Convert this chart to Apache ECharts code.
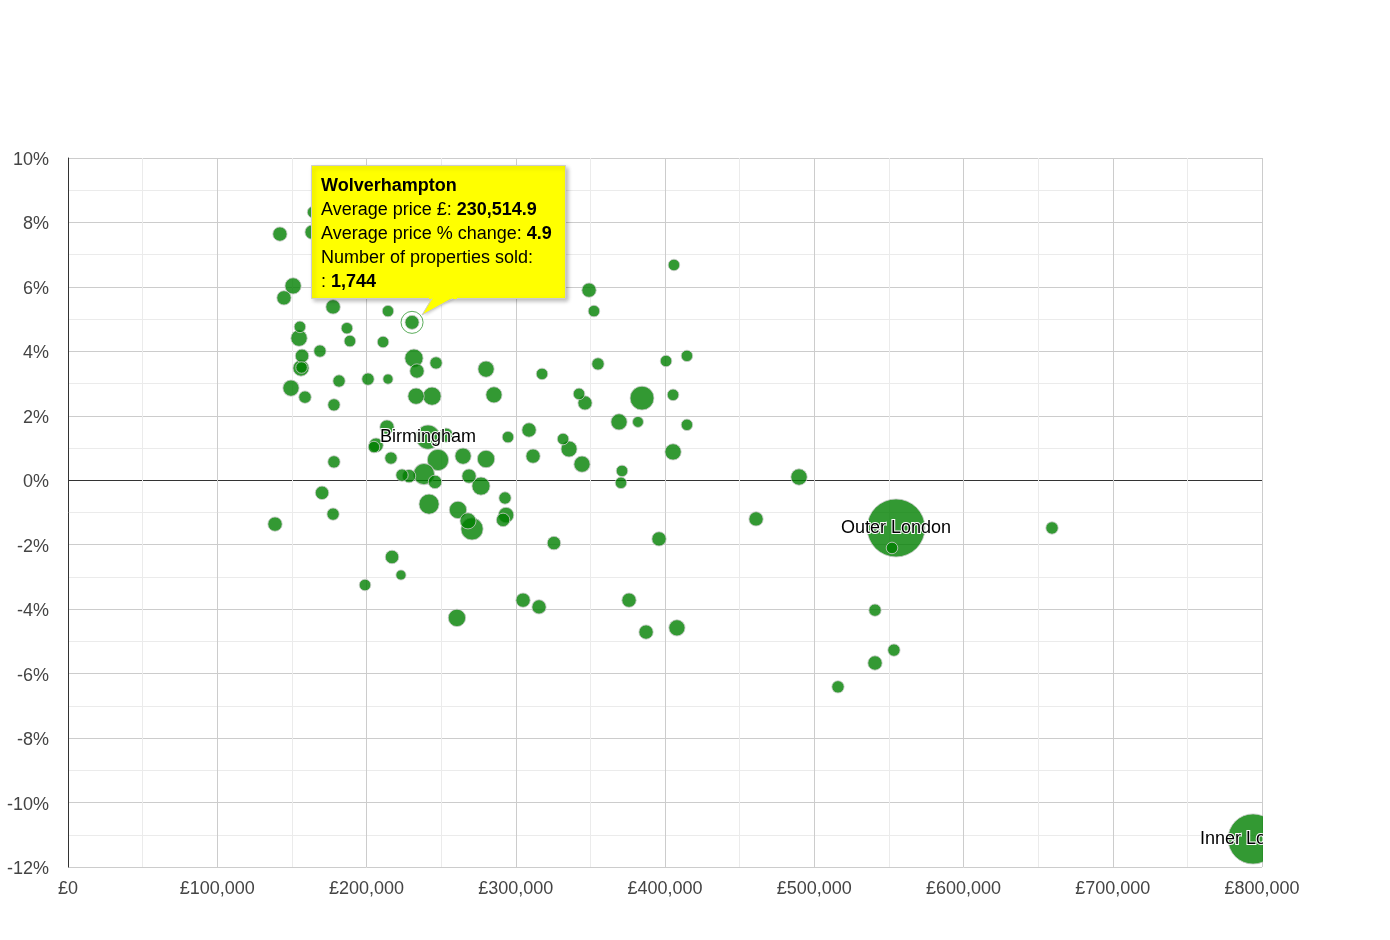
<!DOCTYPE html>
<html>
<head>
<meta charset="utf-8">
<script src="https://cdn.jsdelivr.net/npm/echarts@6/dist/echarts.min.js"></script>
<style>
  html, body { margin: 0; padding: 0; background: #fff; }
  #chart { width: 1390px; height: 940px; }
</style>
</head>
<body>
<div id="chart"></div>
<script>
// bubble data: average price, % change, number of properties sold
var names = [];
var prices = [
  142000, 163500, 164200, 150800, 144700, 177600, 155400, 154800, 186900, 188900,
  214400, 211100, 230514.9, 156800, 156100, 156500, 168800, 149400, 158800, 181600,
  178200, 201000, 214400, 231800, 233800, 246600, 233200, 243900, 280100, 285400,
  317600, 342400, 346400, 355100, 349100, 352400, 307500, 200300, 406000, 400700,
  414700, 405400, 414700, 384600, 381900, 369200, 405400, 371200, 370500, 331700,
  335700, 344400, 308900, 311600, 294800, 280100, 264700, 268700, 276700, 247900,
  238500, 245900, 223800, 228500, 241200, 213700, 253300, 206400, 205000, 216400,
  178200, 170200, 177600, 138700, 241900, 261300, 268000, 270700, 292800, 293500,
  291500, 325600, 217100, 223100, 199000, 260600, 304900, 315600, 375900, 387300,
  408000, 396000, 461000, 489800, 554800, 552100, 540700, 553400, 540700, 515900,
  659300, 794000
];
var changes = [
  7.64, 7.70, 8.32, 6.03, 5.66, 5.38, 4.76, 4.41, 4.72, 4.32,
  5.25, 4.29, 4.9, 3.86, 3.48, 3.50, 4.01, 2.86, 2.58, 3.08,
  2.34, 3.14, 3.14, 3.79, 3.39, 3.64, 2.61, 2.61, 3.45, 2.65,
  3.30, 2.68, 2.40, 3.61, 5.90, 5.25, 5.87, 5.84, 6.68, 3.70,
  3.86, 2.65, 1.72, 2.55, 1.81, 1.81, 0.88, 0.29, -0.08, 1.28,
  0.97, 0.50, 1.56, 0.75, 1.34, 0.66, 0.75, 0.13, -0.18, 0.63,
  0.19, -0.05, 0.16, 0.13, 1.34, 1.65, 1.40, 1.09, 1.03, 0.69,
  0.57, -0.39, -1.05, -1.36, -0.74, -0.92, -1.26, -1.51, -0.55, -1.08,
  -1.23, -1.95, -2.38, -2.94, -3.25, -4.27, -3.72, -3.93, -3.72, -4.71,
  -4.58, -1.82, -1.20, 0.10, -1.48, -2.10, -4.03, -5.27, -5.67, -6.41,
  -1.48, -11.13
];
var sold = [
  1840, 1800, 820, 2570, 1850, 1900, 830, 2600, 800, 850,
  790, 820, 1744, 1550, 2500, 830, 1100, 2550, 1150, 1100,
  1080, 1120, 300, 3300, 1850, 1100, 2580, 3280, 2550, 2520,
  830, 840, 1800, 1100, 1860, 830, 800, 850, 820, 830,
  800, 840, 800, 5400, 600, 2550, 2580, 830, 820, 830,
  2500, 2560, 1850, 1820, 830, 3000, 2550, 1840, 3250, 4450,
  4400, 1550, 1100, 1500, 5500, 1850, 1800, 1880, 820, 1100,
  1120, 1550, 1100, 1850, 4000, 3000, 2500, 4750, 1100, 2300,
  1550, 1550, 1550, 300, 830, 3000, 1840, 1830, 1850, 1840,
  2550, 1850, 1830, 2600, 18000, 830, 1100, 1100, 1850, 1100,
  1120, 15100
];
for (var i = 0; i < prices.length; i++) names.push('');
names[12] = 'Wolverhampton';
names[64] = 'Birmingham';
names[94] = 'Outer London';
names[101] = 'Inner London';

var labelled = ['Birmingham', 'Outer London', 'Inner London'];
var selected = 'Wolverhampton';

var xTicks = [0, 100000, 200000, 300000, 400000, 500000, 600000, 700000, 800000];
var yTicks = [-12, -10, -8, -6, -4, -2, 0, 2, 4, 6, 8, 10];

var FONT = 'Arial, "Liberation Sans", sans-serif';
var minSold = 250, maxSold = 18000;
function bubbleSize(v) {
  var r = 5 + (v - minSold) / (maxSold - minSold) * 24;
  return r * 2;
}

var points = [];
for (var i = 0; i < prices.length; i++) {
  points.push({
    name: names[i],
    value: [prices[i], changes[i], sold[i]],
    label: { show: labelled.indexOf(names[i]) >= 0 }
  });
}
// larger bubbles first so small ones sit on top
points.sort(function (a, b) { return b.value[2] - a.value[2]; });

var sel = points.filter(function (p) { return p.name === selected; })[0];

// y split line colours: dark baseline at 0
var ySplitColors = yTicks.map(function (t) { return t === 0 ? '#333333' : '#cccccc'; });

var chart = echarts.init(document.getElementById('chart'));
chart.setOption({
  animation: false,
  grid: { left: 68, right: 128, top: 158, bottom: 73 },
  xAxis: {
    type: 'value',
    min: xTicks[0],
    max: xTicks[xTicks.length - 1],
    interval: 100000,
    axisLine: { show: false },
    axisTick: { show: false },
    axisLabel: {
      color: '#444', fontSize: 18, fontFamily: FONT, margin: 13,
      formatter: function (v) { return '£' + v.toLocaleString('en-GB'); }
    },
    splitLine: { lineStyle: { color: '#cccccc', width: 1 } },
    minorTick: { show: false, splitNumber: 2 },
    minorSplitLine: { show: true, lineStyle: { color: '#ebebeb', width: 1 } }
  },
  yAxis: {
    type: 'value',
    min: yTicks[0],
    max: yTicks[yTicks.length - 1],
    interval: 2,
    axisLine: { show: true, lineStyle: { color: '#333333', width: 1 } },
    axisTick: { show: false },
    axisLabel: {
      color: '#444', fontSize: 18, fontFamily: FONT, margin: 19,
      formatter: '{p|{value}%}',
      rich: { p: { color: '#444', fontSize: 18, fontFamily: FONT, padding: [4, 0, 0, 0] } }
    },
    splitLine: { lineStyle: { color: ySplitColors, width: 1 } },
    minorTick: { show: false, splitNumber: 2 },
    minorSplitLine: { show: true, lineStyle: { color: '#ebebeb', width: 1 } }
  },
  series: [
    {
      type: 'scatter',
      silent: true,
      data: points,
      symbolSize: function (val) { return bubbleSize(val[2]); },
      itemStyle: { color: 'green', opacity: 0.8, borderColor: '#cccccc', borderWidth: 1 },
      label: {
        position: 'inside',
        formatter: '{b}',
        color: '#000',
        opacity: 1,
        fontSize: 18,
        fontFamily: FONT,
        textBorderColor: '#fff',
        textBorderWidth: 2
      }
    },
    {
      // hover ring around the selected bubble
      type: 'scatter',
      silent: true,
      data: [sel],
      symbolSize: function (val) { return bubbleSize(val[2]) + 8; },
      itemStyle: { color: 'rgba(0,0,0,0)', borderColor: '#339933', borderWidth: 1 },
      label: { show: false },
      z: 3
    }
  ]
});

// static tooltip box for the selected bubble
var pt = chart.convertToPixel({ seriesIndex: 0 }, [sel.value[0], sel.value[1]]);
var bx = Math.round(pt[0]) - 101, by = Math.round(pt[1]) - 157;
var bw = 254, bh = 133;
var tipText = '{b|' + sel.name + '}\n' +
  'Average price £: {b|' + sel.value[0].toLocaleString('en-GB', { maximumFractionDigits: 1 }) + '}\n' +
  'Average price % change: {b|' + sel.value[1] + '}\n' +
  'Number of properties sold:\n' +
  ': {b|' + sel.value[2].toLocaleString('en-GB') + '}';

chart.setOption({
  graphic: [
    {
      // clip bubbles past the right edge of the plot
      type: 'rect', z: 100, silent: true,
      shape: { x: 1263, y: 760, width: 127, height: 106 },
      style: { fill: '#fff' }
    },
    {
      type: 'group', x: bx, y: by, z: 110, silent: true,
      children: [
        {
          type: 'rect', z: 110,
          shape: { x: 0.5, y: 0.5, width: bw, height: bh },
          style: {
            fill: '#ffff00', stroke: '#cccccc', lineWidth: 1,
            shadowBlur: 4, shadowColor: 'rgba(0,0,0,0.25)', shadowOffsetX: 2, shadowOffsetY: 2
          }
        },
        {
          type: 'polygon', z: 111,
          shape: { points: [[121, bh - 0.5], [142, bh - 0.5], [111, bh + 17]] },
          style: { fill: '#ffff00', shadowBlur: 3, shadowColor: 'rgba(0,0,0,0.2)', shadowOffsetX: 2, shadowOffsetY: 1 }
        },
        {
          type: 'rect', z: 112,
          shape: { x: 118, y: bh - 4, width: 28, height: 5 },
          style: { fill: '#ffff00' }
        },
        {
          type: 'polyline', z: 113,
          shape: { points: [[121, bh + 0.5], [111, bh + 17], [142, bh + 0.5]] },
          style: { stroke: '#cccccc', lineWidth: 1, fill: null }
        },
        {
          type: 'text', z: 114,
          x: 10, y: 9,
          style: {
            text: tipText,
            fill: '#000',
            font: '18px ' + FONT,
            lineHeight: 24,
            rich: {
              b: { fontWeight: 'bold', fontSize: 18, fontFamily: FONT, lineHeight: 24, fill: '#000' }
            }
          }
        }
      ]
    }
  ]
});
</script>
</body>
</html>
